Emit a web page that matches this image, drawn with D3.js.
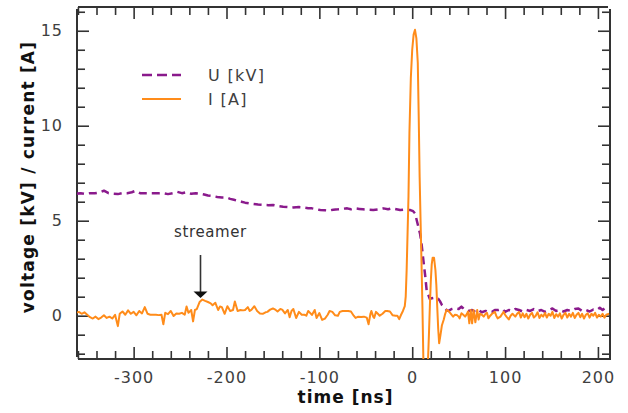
<!DOCTYPE html>
<html><head><meta charset="utf-8">
<script src="https://cdn.jsdelivr.net/npm/d3@7"></script>
<style>
html,body{margin:0;padding:0;background:#fff;}
svg{display:block;font-family:"DejaVu Sans",Verdana,sans-serif;}
</style></head>
<body><svg id="chart" width="628" height="413"></svg>
<script>
// ---- data ----
const currentTime = [-362,-359,-356,-353,-350,-347,-344,-341,-338,-335,-332,-329,-326,-323,-320,-317,-315,-312,-309,-306,-303,-300,-297,-294,-291,-288,-285,-282,-279,-276,-273,-270,-268,-266,-263,-260,-257,-254,-251,-248,-245,-243,-241,-238,-236,-234,-232,-229,-226,-223,-220,-217,-215,-212,-209,-207,-205,-202,-199,-196,-193,-191,-188,-185,-182,-180,-177,-175,-173,-170,-167,-164,-161,-158,-156,-153,-150,-147,-145,-142,-140,-137,-134,-132,-130,-128,-125,-122,-119,-116,-114,-112,-110,-108,-105,-103,-100,-97,-94,-91,-89,-86,-83,-80,-78,-75,-72,-69,-66,-63,-61,-58,-55,-52,-49,-47,-45,-44,-42,-41,-39,-37,-35,-32,-29,-27,-24,-21,-18,-16,-14,-12,-10,-8,-7,-6,-4,-3,-1.5,0,1.5,3,4.5,6,7,8,9,10,11,12,13,15,16.5,18,19,20,21,22,23.5,25,26,27,28,29,30.5,32,34,35.5,37,39,41,44,46,48,50,51,53,55,57,59,60,61.5,63,64.5,66,68,70,71.5,73,75,77,79,80.5,82,84,86,89,90.5,92,95,97,98.5,100,101.5,104,106,108,111,113,115,117,119,121,123,125,127,129,131,133,135,137,139,141,143,145,147,149,151,153,155,157,159,161,163,165,167,169,171,173,175,177,179,181,183,185,187,189,191,193,195,197,199,201,203,205,207,209,212];
const currentValues = [0.15,0.2,0.1,0.18,0.05,-0.08,-0.15,-0.05,-0.18,-0.1,0.02,-0.12,-0.05,-0.15,0.05,-0.55,0.1,0.22,0.05,0.28,0.1,0.2,0.02,0.25,0.12,0.45,0.1,0.05,0.05,0.05,0.03,0.05,-0.45,0.15,0.08,0.25,-0.02,0.12,0.1,0.15,0.05,0.48,0.15,0.3,-0.3,0.3,0.35,0.72,0.85,0.78,0.72,0.65,0.55,0.68,0.3,0.48,0.45,0.1,0.5,0.25,0.3,0.75,0.25,0.3,0.28,0.3,0.45,0.25,0.32,0.5,0.25,0.12,0.1,0.18,0.2,0.32,0.38,0.3,0.22,0.35,0.32,0.12,0.3,-0.08,0.25,0.35,-0.12,0.2,0.05,0.05,0.0,0.25,0.15,0.04,0.3,-0.12,0.14,-0.22,-0.15,0.05,0.25,0.2,0.02,0.0,0.2,0.25,0.25,0.25,0.22,0.0,-0.12,-0.05,-0.07,-0.05,-0.1,-0.45,0.1,0.25,-0.05,-0.12,0.2,0.1,0.0,0.1,0.25,0.25,0.22,0.02,0.0,0.0,-0.18,0.05,0.25,0.5,1.0,2.4,6.3,9.6,12.5,14.0,14.8,15.05,14.6,13.3,10.5,7.3,5.0,2.8,0.5,-2.3,-4.0,-4.5,-3.0,-1.0,0.5,1.8,2.7,3.05,3.05,2.4,1.6,0.4,-0.7,-1.45,-1.0,-0.5,-0.2,0.1,0.3,0.25,0.13,-0.05,0.05,0.04,-0.05,-0.14,0.13,0.05,-0.05,0.1,0.22,-0.4,0.3,-0.4,0.3,-0.35,0.3,-0.2,0.1,0.05,-0.05,0.1,0.15,-0.14,0.0,0.1,0.2,0.0,-0.14,-0.05,0.1,0.2,0.05,-0.05,-0.2,0.0,0.1,-0.05,0.1,0.2,-0.1,0.12,-0.08,0.1,-0.15,0.05,0.15,-0.1,0.0,0.18,-0.12,0.05,-0.05,0.15,-0.1,0.1,0.0,0.2,-0.12,0.08,-0.05,0.12,-0.15,0.05,0.15,-0.1,0.1,-0.05,0.15,-0.12,0.05,0.15,-0.08,0.1,-0.15,0.05,0.12,-0.1,0.1,0.0,0.15,-0.1,0.05,-0.05,0.1,-0.1,0.05,0.1];

const voltageTime = [-362,-357,-352,-347,-342,-337,-332,-327,-322,-317,-312,-307,-302,-298,-293,-288,-283,-278,-273,-268,-263,-258,-253,-248,-243,-238,-233,-228,-224,-220,-215,-210,-205,-200,-196,-192,-188,-184,-180,-176,-171,-166,-160,-155,-150,-145,-139,-134,-128,-122,-117,-112,-108,-103,-99,-94,-90,-85,-80,-75,-70,-66,-62,-57,-53,-48,-42,-36,-31,-26,-22,-17,-13,-9,-6,-2,1,3,5,7,8.5,10,12,14,15.6,17.4,19,21,24.5,28,30,32,35,37,39,42.5,46,50,53,57,61,64.5,68,71.5,75,79,82,86,89,93,97,100,104,108,111,115,119,123,127,131,135,139,143,147,151,155,159,163,167,171,175,179,183,187,191,195,199,202,205,208,212];
const voltageValues = [6.42,6.45,6.4,6.45,6.44,6.48,6.58,6.45,6.42,6.4,6.45,6.45,6.5,6.57,6.45,6.45,6.45,6.45,6.44,6.45,6.4,6.45,6.52,6.45,6.5,6.42,6.45,6.42,6.38,6.33,6.3,6.25,6.22,6.22,6.15,6.1,6.05,6.0,5.95,5.92,5.88,5.85,5.83,5.82,5.83,5.78,5.74,5.72,5.7,5.72,5.7,5.66,5.65,5.6,5.56,5.55,5.53,5.58,5.6,5.63,5.65,5.6,5.65,5.62,5.6,5.58,5.56,5.6,5.65,5.6,5.65,5.6,5.56,5.58,5.56,5.56,5.5,5.39,5.0,4.6,4.3,3.8,2.93,2.1,1.3,1.09,0.88,0.92,0.95,0.9,0.75,0.56,0.39,0.3,0.25,0.35,0.39,0.35,0.48,0.3,0.25,0.3,0.2,0.3,0.18,0.25,0.18,0.2,0.3,0.3,0.35,0.2,0.3,0.25,0.35,0.3,0.22,0.3,0.25,0.35,0.25,0.3,0.2,0.28,0.38,0.25,0.3,0.22,0.3,0.25,0.35,0.38,0.25,0.3,0.22,0.32,0.3,0.42,0.3,0.42,0.45];

const xMajorTicks = [-300,-200,-100,0,100,200];
const xTickLabels = ["-300","-200","-100","0","100","200"];
const xMinorTicks = [-360,-340,-320,-280,-260,-240,-220,-180,-160,-140,-120,-80,-60,-40,-20,20,40,60,80,120,140,160,180];
const yMajorTicks = [0,5,10,15];
const yTickLabels = ["0","5","10","15"];
const yMinorTicks = [-2,-1,1,2,3,4,6,7,8,9,11,12,13,14,16];
const seriesNames = ["U [kV]","I [A]"];
const xTitle = "time [ns]";
const yTitle = "voltage [kV] / current [A]";
const annotationText = "streamer";
const annotationTime = -228;
const annotationValue = 1.3;

// ---- drawing ----
const svg = d3.select("#chart");
const L = 77, R = 610, T = 7, B = 359;
const x = d3.scaleLinear().domain([-361, 213]).range([L, R]);
const y = d3.scaleLinear().domain([-2.28, 16.25]).range([B, T]);
const axisColor = "#333";
const labelColor = "#404040";
const purple = "#8a1a8c";
const orange = "#ff8c1a";

svg.append("defs").append("clipPath").attr("id","plotclip")
  .append("rect").attr("x",L).attr("y",T).attr("width",R-L).attr("height",B-T);

function styleAxis(g){
  g.select(".domain").remove();
  g.selectAll(".tick line").attr("stroke",axisColor).attr("stroke-width",1.6);
  g.selectAll(".tick text").attr("fill",labelColor).attr("font-size",16)
    .attr("font-family","DejaVu Sans, sans-serif").attr("letter-spacing","1px");
}
// bottom
svg.append("g").attr("transform",`translate(0,${B})`)
  .call(d3.axisBottom(x).tickValues(xMajorTicks).tickSize(-12).tickPadding(13)
     .tickFormat((d,i)=>xTickLabels[i])).call(styleAxis);
svg.append("g").attr("transform",`translate(0,${B})`)
  .call(d3.axisBottom(x).tickValues(xMinorTicks).tickSize(-8).tickFormat("")).call(styleAxis);
// top
svg.append("g").attr("transform",`translate(0,${T})`)
  .call(d3.axisTop(x).tickValues(xMajorTicks).tickSize(-12).tickFormat("")).call(styleAxis);
svg.append("g").attr("transform",`translate(0,${T})`)
  .call(d3.axisTop(x).tickValues(xMinorTicks).tickSize(-8).tickFormat("")).call(styleAxis);
// left
svg.append("g").attr("transform",`translate(${L},0)`)
  .call(d3.axisLeft(y).tickValues(yMajorTicks).tickSize(-12).tickPadding(14)
     .tickFormat((d,i)=>yTickLabels[i])).call(styleAxis);
svg.append("g").attr("transform",`translate(${L},0)`)
  .call(d3.axisLeft(y).tickValues(yMinorTicks).tickSize(-8).tickFormat("")).call(styleAxis);
// right
svg.append("g").attr("transform",`translate(${R},0)`)
  .call(d3.axisRight(y).tickValues(yMajorTicks).tickSize(-12).tickFormat("")).call(styleAxis);
svg.append("g").attr("transform",`translate(${R},0)`)
  .call(d3.axisRight(y).tickValues(yMinorTicks).tickSize(-8).tickFormat("")).call(styleAxis);

// frame
const frame = svg.append("g").attr("stroke",axisColor).attr("stroke-width",2).attr("fill","none");
frame.append("line").attr("x1",L+1).attr("x2",R-2).attr("y1",T).attr("y2",T);
frame.append("line").attr("x1",L+1).attr("x2",R-1).attr("y1",B).attr("y2",B);
frame.append("line").attr("x1",L).attr("x2",L).attr("y1",T+2).attr("y2",B-2);
frame.append("line").attr("x1",R).attr("x2",R).attr("y1",T+2).attr("y2",B+1);

// series
const line = d3.line().x(d=>x(d[0])).y(d=>y(d[1]));
const plot = svg.append("g").attr("clip-path","url(#plotclip)");
plot.append("path").datum(voltageTime.map((t,i)=>[t,voltageValues[i]]))
  .attr("d",line).attr("fill","none").attr("stroke",purple).attr("stroke-width",2.5)
  .attr("stroke-dasharray","8,5").attr("stroke-linejoin","round");
plot.append("path").datum(currentTime.map((t,i)=>[t,currentValues[i]]))
  .attr("d",line).attr("fill","none").attr("stroke",orange).attr("stroke-width",2)
  .attr("stroke-linejoin","round");

// legend
const leg = svg.append("g");
const legItems = [{name:seriesNames[0],color:purple,dash:"10,5",w:2.5,yy:75},
                  {name:seriesNames[1],color:orange,dash:null,w:2,yy:99}];
legItems.forEach(it=>{
  leg.append("line").attr("x1",142).attr("x2",181).attr("y1",it.yy).attr("y2",it.yy)
    .attr("stroke",it.color).attr("stroke-width",it.w).attr("stroke-dasharray",it.dash);
  leg.append("text").attr("x",208).attr("y",it.yy).attr("dy","0.36em")
    .attr("font-size",16).attr("letter-spacing","1.3px").attr("fill",labelColor).text(it.name);
});

// annotation
const ax = x(annotationTime);
svg.append("text").attr("x",ax+10).attr("y",237).attr("text-anchor","middle")
  .attr("font-size",15).attr("letter-spacing","0.6px").attr("fill","#333").text(annotationText);
svg.append("line").attr("x1",ax).attr("x2",ax).attr("y1",255).attr("y2",y(annotationValue)+6)
  .attr("stroke","#333").attr("stroke-width",1.6);
svg.append("path").attr("d",`M${ax-7},${y(annotationValue)+0.5} L${ax+7},${y(annotationValue)+0.5} L${ax},${y(annotationValue)+7} Z`)
  .attr("fill","#111");

// axis titles
svg.append("text").attr("x",(L+R)/2+2).attr("y",403).attr("text-anchor","middle")
  .attr("font-size",17).attr("font-weight","bold").attr("letter-spacing","1px").attr("fill","#111").text(xTitle);
svg.append("text").attr("transform",`translate(34,177) rotate(-90)`).attr("text-anchor","middle")
  .attr("font-size",17).attr("font-weight","bold").attr("letter-spacing","1.2px").attr("fill","#111").text(yTitle);
</script></body></html>
